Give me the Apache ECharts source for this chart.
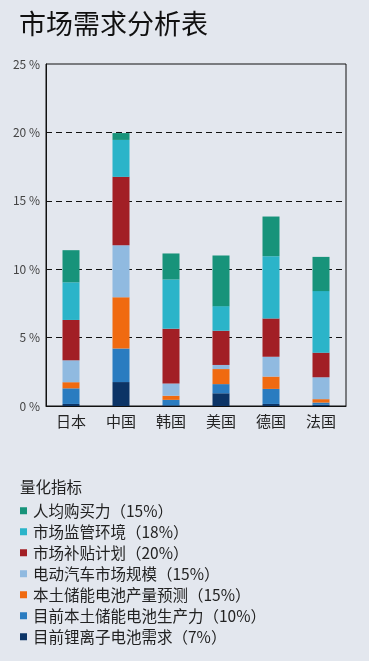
<!DOCTYPE html>
<html><head><meta charset="utf-8">
<script src="https://cdn.jsdelivr.net/npm/echarts@6/dist/echarts.min.js"></script>
<style>html,body{margin:0;padding:0;background:#e3e7ee;}#c{width:369px;height:661px;}</style>
</head><body><div id="c"></div>
<script>
const categories = ['日本','中国','韩国','美国','德国','法国'];
const seriesNames = ['目前锂离子电池需求（7%）','目前本土储能电池生产力（10%）','本土储能电池产量预测（15%）','电动汽车市场规模（15%）','市场补贴计划（20%）','市场监管环境（18%）','人均购买力（15%）'];
const liIonDemand      = [0.15, 1.75, 0.05, 0.93, 0.15, 0.10];
const localCapacity    = [1.14, 2.45, 0.40, 0.67, 1.10, 0.15];
const localForecast    = [0.45, 3.75, 0.30, 1.10, 0.90, 0.25];
const evMarket         = [1.60, 3.80, 0.90, 0.30, 1.45, 1.60];
const subsidyPlan      = [2.95, 5.00, 4.00, 2.50, 2.80, 1.80];
const regulation       = [2.75, 2.70, 3.60, 1.80, 4.55, 4.50];
const purchasingPower  = [2.35, 0.50, 1.90, 3.70, 2.90, 2.50];
const yTicks = [0, 5, 10, 15, 20, 25];
const legendTitle = '量化指标';
const chartTitle = '市场需求分析表';

const values = [liIonDemand, localCapacity, localForecast, evMarket, subsidyPlan, regulation, purchasingPower];
const colors = ['#0c3466','#2a7cc0','#f06a10','#90bae0','#a21f25','#2bb4c9','#17937a'];
const font = "'Noto Sans CJK SC', sans-serif";

const chart = echarts.init(document.getElementById('c'), null, {renderer:'canvas'});
chart.setOption({
  backgroundColor: '#e3e7ee',
  animation: false,
  title: [
    {text: chartTitle, left: 14, top: 5, textStyle:{fontFamily:font, fontSize:27, fontWeight:'normal', color:'#111'}},
    {text: legendTitle, left: 15, top: 474, textStyle:{fontFamily:font, fontSize:15.5, fontWeight:'normal', color:'#222'}}
  ],
  grid: {left:46, right:23, top:64, bottom:255, show:true, borderColor:'#111', borderWidth:1, backgroundColor:'transparent'},
  legend: {
    orient:'vertical', left:15, top:498, itemWidth:7, itemHeight:7, icon:'rect', itemGap:5.5,
    data: seriesNames.slice().reverse(),
    textStyle:{fontFamily:font, fontSize:15.5, color:'#222', padding:[0,0,0,1]}
  },
  xAxis: {
    type:'category', data: categories,
    axisLine:{lineStyle:{color:'#111'}}, axisTick:{show:false},
    axisLabel:{fontFamily:font, fontSize:15, color:'#222', margin:8}
  },
  yAxis: {
    type:'value', min: yTicks[0], max: yTicks[yTicks.length-1], interval: 5,
    axisLine:{show:true, lineStyle:{color:'#111'}}, axisTick:{show:false},
    axisLabel:{fontFamily:font, fontSize:12, color:'#444', margin:6, formatter: v => v + ' %'},
    splitLine:{show:true, showMinLine:false, showMaxLine:false, lineStyle:{color:'#111', type:[6,4], width:1}}
  },
  series: seriesNames.map((n,i)=>({
    name:n, type:'bar', stack:'total', barWidth:17, data: values[i],
    itemStyle:{color: colors[i]}
  }))
});
</script></body></html>
